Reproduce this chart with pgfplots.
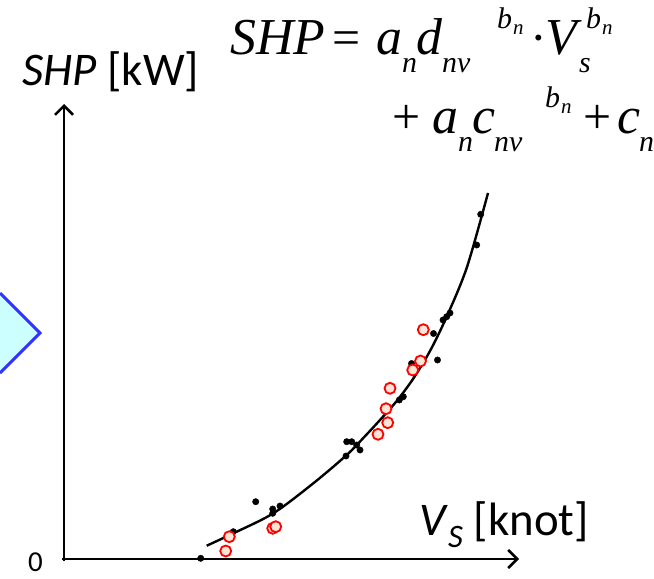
\documentclass[border=0pt]{standalone}
\usepackage{pgfplots}
\pgfplotsset{compat=1.18}
\usepackage{fontspec}
\setmainfont{Carlito}
\newfontfamily\tms{Liberation Serif}
\usetikzlibrary{arrows.meta}
\definecolor{dfill}{RGB}{204,255,255}
\definecolor{dline}{RGB}{51,51,255}
\definecolor{cfill}{RGB}{252,228,214}

\begin{document}
\begin{tikzpicture}[
  big/.style={anchor=base west, inner sep=0, font=\tms\itshape\fontsize{52}{52}\selectfont},
  bigr/.style={anchor=base west, inner sep=0, font=\tms\fontsize{50}{50}\selectfont},
  sb/.style={anchor=base west, inner sep=0, font=\tms\itshape\fontsize{30}{30}\selectfont},
  ssb/.style={anchor=base west, inner sep=0, font=\tms\itshape\fontsize{21}{21}\selectfont},
]
\begin{axis}[
  scale only axis, width=654bp, height=579bp,
  xmin=0, xmax=654, ymin=0, ymax=579, y dir=reverse,
  hide axis, clip=false,
]
% part of the arrow shape at the left edge
\fill[dfill] (axis cs:0,293) -- (axis cs:40,333) -- (axis cs:0,373) -- cycle;
\draw[dline, line width=3bp] (axis cs:0,293) -- (axis cs:40,333) -- (axis cs:0,373);

% axes
\draw[line width=2.5bp, -{Straight Barb[length=9bp,width=18bp]}] (axis cs:64,561) -- (axis cs:64,104);
\draw[line width=2.5bp, -{Straight Barb[length=9bp,width=18bp]}] (axis cs:62,559) -- (axis cs:519,559);

% fitted curve
\addplot[smooth, line width=2.4bp, black, no marks] coordinates {
  (206.7,545.7) (233.3,533.3) (273.3,513.3) (313.3,483.3) (346.7,455)
  (363.3,438) (380,420) (396.7,401) (413,379) (430,351)
  (447,316) (467,267) (488,193)
};

% measured points
\addplot[only marks, mark=*, mark size=3.2bp, black] coordinates {
  (200.7,558.3) (255.7,501.7) (272.7,509) (272.7,513.3) (280,506)
  (233.3,531.7) (346.7,441.7) (351.7,441.7) (356.7,445) (360,450)
  (346,456) (399.3,400) (403.3,396.7) (411.5,363.5) (437.5,360)
  (433.5,333.5) (443,320) (446.7,316.7) (450,313) (476.7,245) (480.7,214.3)
};

% estimated points
\addplot[only marks, mark=*, mark size=5.5bp,
  mark options={draw=red, fill=cfill, line width=1.8bp}] coordinates {
  (229.3,536.7) (225.7,551) (272.7,528.3) (275.7,526.7)
  (378,434.3) (387.7,422.7) (386,408.7) (390,388.3)
  (412.7,370) (420.5,361) (423.3,329.7)
};

% axis labels
\node[anchor=base west, inner sep=0, font=\fontsize{47}{47}\selectfont]
  at (axis cs:22,86) {\textit{SHP} [kW]};
\node[anchor=base west, inner sep=0, font=\fontsize{47}{47}\selectfont]
  at (axis cs:419,535) {\textit{V}\textsubscript{\textit{S}} [knot]};
\node[anchor=base west, inner sep=0, font=\fontsize{29}{29}\selectfont]
  at (axis cs:28,571) {0};

% formula, line 1
\node[big]  at (axis cs:230,55) {SHP};
\node[bigr] at (axis cs:332,55) {=};
\node[big]  at (axis cs:376,55) {a};
\node[sb]   at (axis cs:402,73) {n};
\node[big]  at (axis cs:416,55) {d};
\node[sb]   at (axis cs:442,73) {nv};
\node[sb]   at (axis cs:497,29) {b};
\node[ssb]  at (axis cs:513,35) {n};
\node[bigr] at (axis cs:530,55) {·};
\node[big]  at (axis cs:545,55) {V};
\node[sb]   at (axis cs:579,73) {s};
\node[sb]   at (axis cs:586,29) {b};
\node[ssb]  at (axis cs:602,35) {n};
% formula, line 2
\node[bigr] at (axis cs:392,133) {+};
\node[big]  at (axis cs:432,133) {a};
\node[sb]   at (axis cs:458,151) {n};
\node[big]  at (axis cs:472,133) {c};
\node[sb]   at (axis cs:494,151) {nv};
\node[sb]   at (axis cs:545,107) {b};
\node[ssb]  at (axis cs:561,113) {n};
\node[bigr] at (axis cs:583,133) {+};
\node[big]  at (axis cs:617,133) {c};
\node[sb]   at (axis cs:639,151) {n};
\end{axis}
\pgfresetboundingbox
\path[use as bounding box] (current axis.south west) rectangle (current axis.north east);
\end{tikzpicture}
\end{document}
